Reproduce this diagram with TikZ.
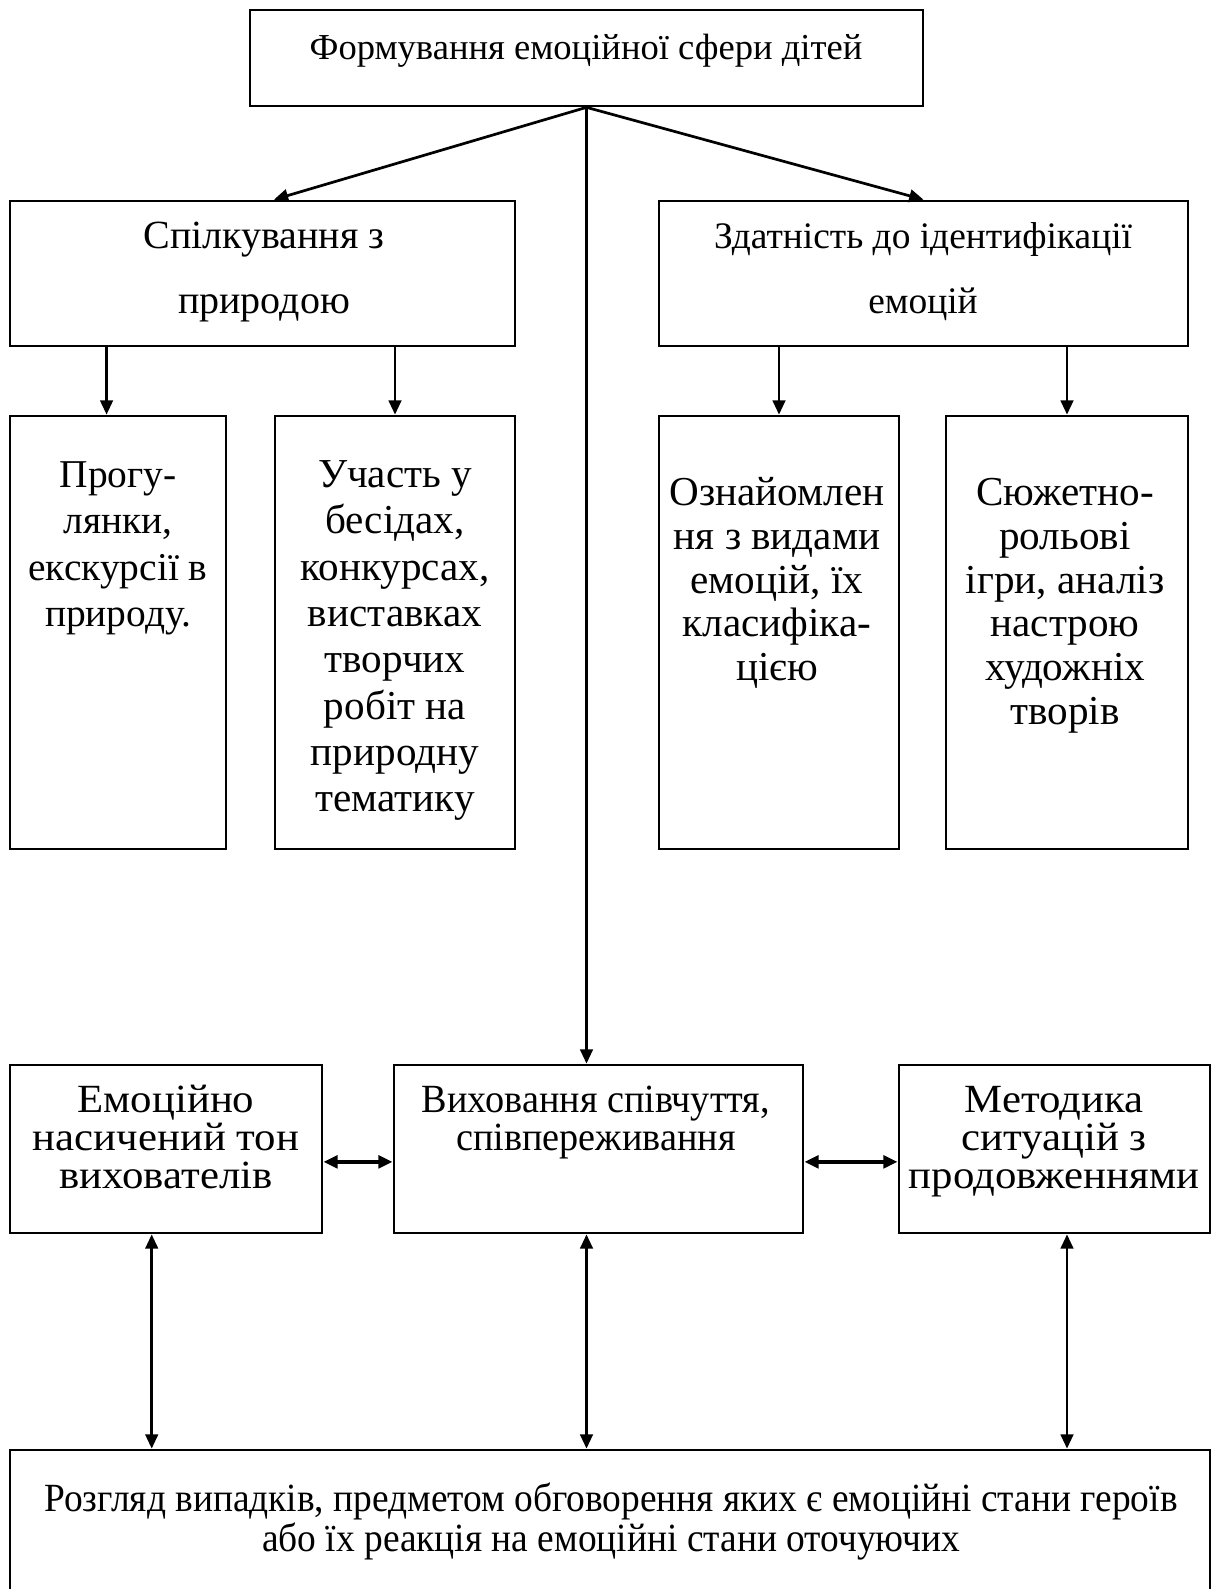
\documentclass[tikz,border=0pt]{standalone}
\usepackage{fontspec}
\setmainfont{Liberation Serif}
\newfontfamily\narrowserif{Liberation Serif}[FakeStretch=0.935]
\newfontfamily\slimserif{Liberation Serif}[FakeStretch=0.955]
\newfontfamily\wideserif{Liberation Serif}[FakeStretch=1.07]
\usetikzlibrary{arrows.meta,fit}
\newcommand\boxfont[2]{\fontsize{#1}{#2}\selectfont\lineskiplimit=-20pt\relax}
\newcommand\firstline{\rule{0pt}{14pt}}

\begin{document}
\begin{tikzpicture}[x=0.35pt,y=-0.35pt,
    box/.style={draw,line width=0.95pt,inner sep=0pt},
    txt/.style={anchor=north,inner sep=0pt,align=center},
    arr/.style={line width=0.95pt,-{Triangle[length=5pt,width=4.4pt]}},
    dbl/.style={line width=0.95pt,{Triangle[length=5pt,width=4.4pt]}-{Triangle[length=5pt,width=4.4pt]}}]
    \useasboundingbox (0,0) rectangle (1218,1589);

    \node[box,fit={(250,10) (923,106)}] (Formation) {};
    \node[box,fit={(10,201) (515,346)}] (Nature) {};
    \node[box,fit={(659,201) (1188,346)}] (Identification) {};

    \node[box,fit={(10,416) (226,849)}] (Walks) {};
    \node[box,fit={(275,416) (515,849)}] (Talks) {};
    \node[box,fit={(659,416) (899,849)}] (Acquaint) {};
    \node[box,fit={(946,416) (1188,849)}] (Games) {};

    \node[box,fit={(10,1065) (322,1233)}] (Tone) {};
    \node[box,fit={(394,1065) (803,1233)}] (Empathy) {};
    \node[box,fit={(899,1065) (1210,1233)}] (Method) {};
    \node[box,fit={(10,1450) (1210,1596)}] (Cases) {};

    \node[txt,font=\boxfont{12.8pt}{16pt}] (FormationText) at (586,19) {\firstline Формування емоційної сфери дітей};
    \node[txt,font=\boxfont{14pt}{22.75pt}] (NatureText) at (264,208) {\firstline Спілкування з\\природою};
    \node[txt,font=\boxfont{13.1pt}{22.75pt}] (IdentificationText) at (923,208) {\firstline Здатність до ідентифікації\\емоцій};

    \node[txt,font=\boxfont{13.8pt}{16.2pt}] (WalksText) at (118,447) {\firstline Прогу-\\лянки,\\екскурсії в\\природу.};
    \node[txt,font=\boxfont{14.4pt}{16.2pt}] (TalksText) at (395,447) {\firstline Участь у\\бесідах,\\конкурсах,\\виставках\\творчих\\робіт на\\природну\\тематику};
    \node[txt,font=\boxfont{14.4pt}{15.3pt}] (AcquaintText) at (777,465) {\firstline Ознайомлен\\ня з видами\\емоцій, їх\\класифіка-\\цією};
    \node[txt,font=\boxfont{14.4pt}{15.3pt}] (GamesText) at (1065,465) {\firstline Сюжетно-\\рольові\\ігри, аналіз\\настрою\\художніх\\творів};

    \node[txt,font={\wideserif\boxfont{14pt}{13.3pt}}] (ToneText) at (166,1072) {\firstline Емоційно\\насичений тон\\вихователів};
    \node[txt,font={\slimserif\boxfont{14pt}{13.3pt}}] (EmpathyText) at (596,1072) {\firstline Виховання співчуття,\\співпереживання};
    \node[txt,font={\wideserif\boxfont{14pt}{13.3pt}}] (MethodText) at (1054,1072) {\firstline Методика\\ситуацій з\\продовженнями};
    \node[txt,font={\narrowserif\boxfont{14pt}{13.8pt}}] (CasesText) at (611,1471) {\firstline Розгляд випадків, предметом обговорення яких є емоційні стани героїв\\або їх реакція на емоційні стани оточуючих};

    \draw[arr] (Formation.south) -- ([xshift=4pt]Nature.north);
    \draw[arr] (Formation.south) -- (Identification.north);
    \draw[arr] (Formation.south) -- (Formation.south |- Empathy.north);

    \draw[arr] ([xshift=-4pt]Nature.south -| Walks.north) -- ([xshift=-4pt]Walks.north);
    \draw[arr] (Nature.south -| Talks.north) -- (Talks.north);
    \draw[arr] (Identification.south -| Acquaint.north) -- (Acquaint.north);
    \draw[arr] (Identification.south -| Games.north) -- (Games.north);

    \draw[dbl,line width=1.5pt] ([yshift=-4.5pt]Tone.east) -- ([yshift=-4.5pt]Empathy.west);
    \draw[dbl,line width=1.5pt] ([yshift=-4.5pt]Empathy.east) -- ([yshift=-4.5pt]Method.west);

    \draw[dbl] ([xshift=-5pt]Tone.south) -- ([xshift=-5pt]Tone.south |- Cases.north);
    \draw[dbl] (Formation.south |- Empathy.south) -- (Formation.south |- Cases.north);
    \draw[dbl] (Method.south -| Games.south) -- (Cases.north -| Games.south);
\end{tikzpicture}
\end{document}
